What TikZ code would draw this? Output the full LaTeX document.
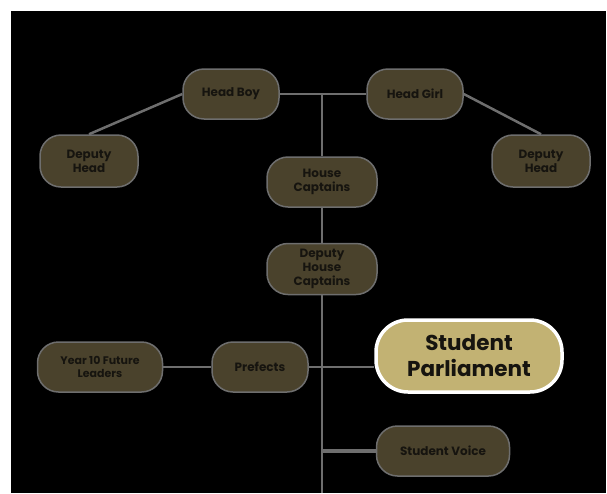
\documentclass[tikz,border=0pt]{standalone}
\usepackage{fontspec}
\setmainfont{Poppins}
\definecolor{BoxBrown}{HTML}{4A422C}
\definecolor{EdgeGray}{HTML}{6E6E6E}
\definecolor{Gold}{HTML}{C2B273}
\definecolor{InkDark}{HTML}{16140F}
\usetikzlibrary{positioning,calc,backgrounds}

\begin{document}
\begin{tikzpicture}
[x=1pt,y=-1pt,
   role/.style={font=\fontsize{12}{14}\selectfont\bfseries,rectangle,rounded corners=21pt,
   minimum height=50pt,minimum width=96pt,text=InkDark,fill=BoxBrown,
   draw=EdgeGray,line width=1.5pt,align=center,inner sep=2pt},
   gold/.style={role,font=\fontsize{21.5}{26}\selectfont\bfseries,fill=Gold,draw=white,
   line width=3.5pt,rounded corners=32pt,minimum width=186pt,minimum height=72pt},
   link/.style={EdgeGray,line width=2.5pt}]
\useasboundingbox (0,0) rectangle (607,493);
\node[role] (hb) at (231,94) {Head Boy};
\node[role] (hg) at (415,94) {Head Girl};
\node[role,minimum width=98pt,minimum height=52pt] (dhl) at (89,161) {Deputy\\Head};
\node[role,minimum width=98pt,minimum height=52pt] (dhr) at (541,161) {Deputy\\Head};
\node[role,minimum width=110pt] (hc) at (322,182) {House\\Captains};
\node[role,minimum width=110pt,minimum height=51pt] (dhc) at (322,269) {Deputy\\House\\Captains};
\node[role] (pf) at (260,367) {Prefects};
\node[role,minimum width=125pt,font=\fontsize{11}{13}\selectfont\bfseries] (yf) at (100,367)
{Year 10 Future\\Leaders};
\node[gold] (sp) at (469,356) {Student\\Parliament};
\node[role,minimum width=133pt] (sv) at (443,451) {Student Voice};

\coordinate (trunk) at (hc |- hb);
\coordinate (foot) at (322,493);

\begin{pgfonlayer}{background}
   \fill[white] (0,0) rectangle (607,493);
   \fill[black] (11,11) rectangle (606,493);
   \draw[link] (hb) -- (hg);
   \draw[link] (trunk) -- (hc);
   \draw[link] (hc) -- (dhc);
   \draw[link] (dhc) -- (foot);
   \draw[link] (hb.west) -- (dhl.north);
   \draw[link] (hg.east) -- (dhr.north);
   \draw[link] (yf) -- (pf);
   \draw[link] (pf) -- (sp.west |- pf);
   \draw[link,line width=4.5pt] (dhc.south |- sv) -- (sv);
\end{pgfonlayer}
%%
\end{tikzpicture}
\end{document}
